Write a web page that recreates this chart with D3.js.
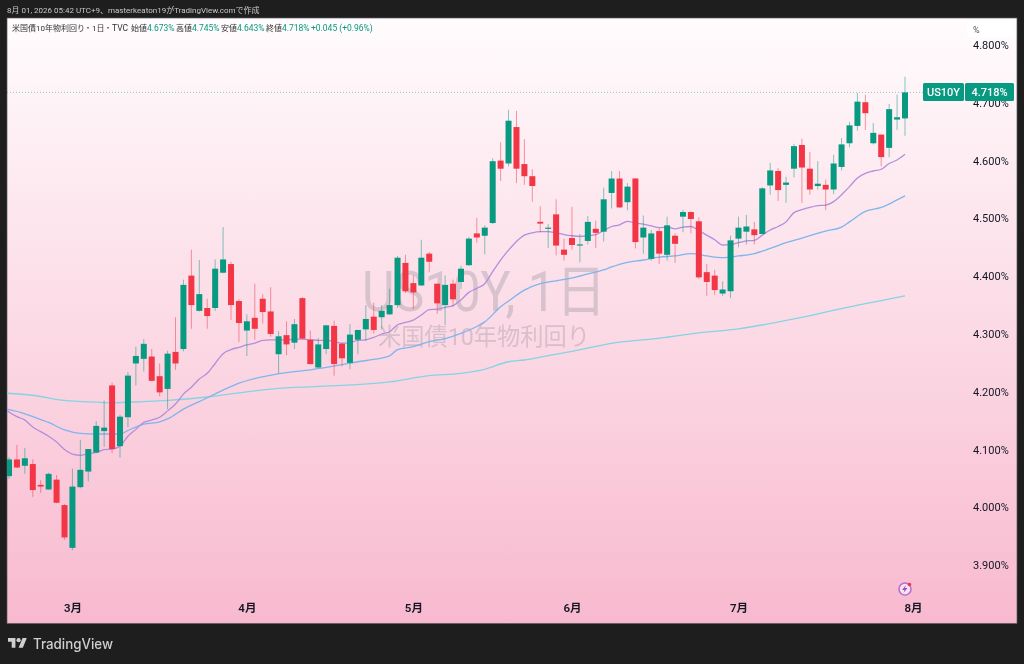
<!DOCTYPE html>
<html>
<head>
<meta charset="utf-8">
<title>US10Y</title>
<script src="https://cdn.jsdelivr.net/npm/d3@7"></script>
<style>
    html, body { margin: 0; padding: 0; background: #1e1e1e; }
    svg { display: block; filter: blur(0.3px); }
    text { font-family: Roboto, "Noto Sans CJK JP", sans-serif; }
</style>
</head>
<body>
<svg id="chart" width="1024" height="664"></svg>
<script>
    // daily candles, oldest first
    const opens = [4.054,4.083,4.072,4.075,4.039,4.031,4.048,4.004,3.930,4.035,4.062,4.095,4.132,4.211,4.106,4.156,4.249,4.257,4.261,4.227,
        4.205,4.269,4.274,4.401,4.340,4.345,4.345,4.406,4.421,4.357,4.306,4.328,4.361,4.339,4.265,4.298,4.285,4.362,4.290,4.242,
        4.274,4.314,4.283,4.250,4.290,4.308,4.330,4.329,4.334,4.350,4.423,4.388,4.384,4.439,4.387,4.350,4.387,4.390,4.419,4.474,
        4.470,4.492,4.600,4.595,4.658,4.594,4.573,4.494,4.482,4.507,4.446,4.466,4.453,4.461,4.482,4.477,4.544,4.569,4.528,4.569,
        4.467,4.430,4.478,4.437,4.470,4.503,4.511,4.495,4.407,4.401,4.370,4.374,4.465,4.477,4.481,4.473,4.557,4.582,4.558,4.586,
        4.627,4.586,4.556,4.558,4.550,4.589,4.630,4.660,4.701,4.630,4.645,4.622,4.671,4.673];
    const highs = [4.087,4.108,4.103,4.083,4.047,4.060,4.056,4.006,4.067,4.117,4.101,4.149,4.185,4.216,4.160,4.234,4.278,4.291,4.274,4.249,
        4.271,4.329,4.394,4.446,4.428,4.361,4.429,4.485,4.425,4.360,4.334,4.387,4.369,4.381,4.305,4.322,4.326,4.364,4.306,4.293,
        4.316,4.323,4.285,4.317,4.307,4.350,4.354,4.350,4.378,4.435,4.437,4.402,4.463,4.442,4.387,4.401,4.394,4.418,4.468,4.501,
        4.488,4.604,4.632,4.688,4.686,4.637,4.585,4.521,4.490,4.533,4.465,4.520,4.473,4.504,4.496,4.553,4.582,4.582,4.561,4.570,
        4.505,4.480,4.483,4.503,4.474,4.515,4.512,4.502,4.421,4.411,4.391,4.470,4.503,4.506,4.494,4.554,4.596,4.587,4.572,4.629,
        4.638,4.615,4.599,4.567,4.610,4.639,4.667,4.717,4.714,4.665,4.645,4.698,4.714,4.745];
    const lows = [4.049,4.068,4.058,4.018,4.025,4.030,4.007,3.944,3.926,4.033,4.045,4.094,4.105,4.094,4.086,4.139,4.211,4.235,4.218,4.192,
        4.170,4.238,4.270,4.309,4.339,4.309,4.340,4.405,4.324,4.286,4.262,4.290,4.318,4.295,4.232,4.263,4.274,4.291,4.247,4.241,
        4.265,4.228,4.244,4.239,4.265,4.288,4.301,4.308,4.333,4.345,4.371,4.343,4.383,4.407,4.335,4.316,4.347,4.378,4.418,4.458,
        4.438,4.490,4.565,4.590,4.561,4.558,4.529,4.476,4.449,4.436,4.427,4.446,4.424,4.455,4.449,4.460,4.517,4.518,4.514,4.448,
        4.439,4.427,4.421,4.427,4.423,4.476,4.474,4.395,4.366,4.368,4.366,4.362,4.450,4.455,4.455,4.473,4.541,4.530,4.527,4.571,
        4.527,4.541,4.550,4.514,4.542,4.583,4.623,4.652,4.653,4.628,4.590,4.606,4.653,4.643];
    const closes = [4.083,4.069,4.085,4.030,4.036,4.058,4.008,3.948,4.036,4.065,4.101,4.141,4.138,4.101,4.157,4.228,4.262,4.283,4.219,4.199,
        4.266,4.249,4.385,4.350,4.369,4.331,4.413,4.429,4.350,4.319,4.322,4.309,4.338,4.300,4.296,4.282,4.317,4.292,4.248,4.282,
        4.315,4.248,4.258,4.299,4.307,4.326,4.307,4.340,4.350,4.432,4.374,4.372,4.432,4.425,4.353,4.385,4.360,4.413,4.465,4.467,
        4.484,4.599,4.586,4.669,4.586,4.573,4.556,4.491,4.484,4.453,4.437,4.454,4.455,4.494,4.475,4.533,4.569,4.519,4.555,4.459,
        4.484,4.474,4.439,4.488,4.456,4.511,4.499,4.398,4.390,4.376,4.377,4.462,4.484,4.486,4.471,4.552,4.583,4.549,4.562,4.625,
        4.588,4.550,4.560,4.550,4.595,4.628,4.661,4.702,4.682,4.648,4.606,4.689,4.675,4.718];

    // moving averages: purple read at every candle from one bar before the first
    const maFastValues = [4.177,4.165,4.157,4.151,4.139,4.131,4.123,4.113,4.100,4.092,4.090,4.093,4.095,4.100,4.101,4.106,4.123,4.135,4.147,4.151,
        4.156,4.167,4.179,4.196,4.208,4.222,4.232,4.249,4.266,4.273,4.277,4.281,4.284,4.289,4.290,4.290,4.290,4.291,4.291,4.290,
        4.289,4.289,4.287,4.284,4.285,4.289,4.290,4.294,4.300,4.304,4.316,4.320,4.324,4.333,4.342,4.343,4.346,4.349,4.359,4.372,
        4.379,4.387,4.408,4.428,4.445,4.460,4.471,4.475,4.477,4.477,4.475,4.472,4.470,4.469,4.470,4.472,4.479,4.486,4.489,4.495,
        4.492,4.490,4.487,4.484,4.485,4.482,4.485,4.486,4.479,4.471,4.463,4.454,4.455,4.458,4.461,4.462,4.471,4.480,4.486,4.494,
        4.510,4.515,4.519,4.522,4.523,4.529,4.541,4.555,4.570,4.578,4.582,4.585,4.595,4.601,4.611];
    const maFastIndex = d3.range(-1, 114);
    // blue and cyan only read where the curve bends
    const maMidIndex = [-1,2,3,5,7,9,11,14,15,17,19,20,22,24,27,29,32,35,38,42,44,46,48,49,51,53,55,57,59,60,62,63,65,67,69,71,73,75,76,78,80,82,84,86,88,90,92,94,96,98,100,103,105,106,108,110,112,113];
    const maMidValues = [4.172,4.162,4.157,4.147,4.134,4.128,4.127,4.127,4.133,4.144,4.148,4.153,4.170,4.183,4.203,4.215,4.226,4.233,4.238,4.247,4.252,4.256,4.262,4.273,4.278,4.287,4.292,4.301,4.313,4.321,4.347,4.357,4.376,4.387,4.392,4.397,4.404,4.411,4.416,4.424,4.428,4.433,4.435,4.439,4.435,4.432,4.435,4.439,4.448,4.458,4.466,4.478,4.485,4.494,4.512,4.519,4.532,4.539];
    const maSlowIndex = [-1,3,7,11,13,17,20,25,30,34,42,48,53,57,60,63,65,67,71,77,81,87,92,99,105,113];
    const maSlowValues = [4.198,4.194,4.185,4.182,4.181,4.183,4.185,4.191,4.200,4.206,4.211,4.217,4.228,4.232,4.239,4.252,4.255,4.260,4.270,4.286,4.291,4.302,4.309,4.326,4.344,4.366];

    const priceTicks = [3.9,4.0,4.1,4.2,4.3,4.4,4.5,4.6,4.7,4.8];
    const monthIndex = [8,30,51,71,92,114];
    const monthLabels = ["3月","4月","5月","6月","7月","8月"];
    const lastPrice = 4.718;

    const up = "#089981", down = "#f23645";
    const plot = {left: 7, top: 18, right: 1017, bottom: 623.5};

    const svg = d3.select("#chart");
    const defs = svg.append("defs");
    const grad = defs.append("linearGradient").attr("id", "bg")
        .attr("x1", 0).attr("y1", 0).attr("x2", 0).attr("y2", 1);
    grad.append("stop").attr("offset", "0%").attr("stop-color", "#fffcfd");
    grad.append("stop").attr("offset", "100%").attr("stop-color", "#f8b9cf");
    defs.append("clipPath").attr("id", "plotClip").append("rect")
        .attr("x", plot.left).attr("y", plot.top)
        .attr("width", plot.right - plot.left).attr("height", plot.bottom - plot.top);

    // credit line above the pane
    svg.append("text").attr("x", 7).attr("y", 13)
        .attr("font-size", 8).attr("fill", "#c8c8c8")
        .text("8月 01, 2026 05:42 UTC+9、masterkeaton19がTradingView.comで作成");

    svg.append("rect")
        .attr("x", plot.left).attr("y", plot.top)
        .attr("width", plot.right - plot.left).attr("height", plot.bottom - plot.top)
        .attr("fill", "url(#bg)").attr("stroke", "#5a5a5e").attr("stroke-width", 0.7);

    const x = d3.scaleLinear().domain([0, 113]).range([9, 905]);
    const y = d3.scaleLinear().domain([3.9, 4.8]).range([565.2, 45]);

    // watermark
    svg.append("text").attr("x", 362).attr("y", 311)
        .attr("font-size", 56).attr("fill", "#787b86").attr("fill-opacity", 0.27)
        .attr("textLength", 244).attr("lengthAdjust", "spacingAndGlyphs")
        .text("US10Y, 1日");
    svg.append("text").attr("x", 378).attr("y", 345)
        .attr("font-size", 23.5).attr("fill", "#787b86").attr("fill-opacity", 0.27)
        .attr("textLength", 212).attr("lengthAdjust", "spacingAndGlyphs")
        .text("米国債10年物利回り");

    const pane = svg.append("g").attr("clip-path", "url(#plotClip)");

    // last price line
    pane.append("line")
        .attr("x1", plot.left).attr("x2", 923)
        .attr("y1", y(lastPrice)).attr("y2", y(lastPrice))
        .attr("stroke", up).attr("stroke-opacity", 0.45)
        .attr("stroke-width", 1).attr("stroke-dasharray", "1 2");

    // moving averages
    const maLine = d3.line().x(d => x(d[0])).y(d => y(d[1])).curve(d3.curveMonotoneX);
    [
        {idx: maSlowIndex, vals: maSlowValues, color: "#86d3e3"},
        {idx: maMidIndex, vals: maMidValues, color: "#7fb5ec"},
        {idx: maFastIndex, vals: maFastValues, color: "#b28fdc"}
    ].forEach(s => {
        pane.append("path")
            .datum(s.idx.map((d, i) => [d, s.vals[i]]))
            .attr("fill", "none").attr("stroke", s.color).attr("stroke-width", 1.3)
            .attr("d", maLine);
    });

    // candles
    const candles = opens.map((o, i) => ({i: i, o: o, h: highs[i], l: lows[i], c: closes[i]}));
    const candle = pane.selectAll("g.candle").data(candles).enter().append("g").attr("class", "candle");
    candle.append("line")
        .attr("x1", d => x(d.i)).attr("x2", d => x(d.i))
        .attr("y1", d => y(d.h)).attr("y2", d => y(d.l))
        .attr("stroke", d => d.c >= d.o ? up : down)
        .attr("stroke-opacity", 0.5).attr("stroke-width", 1);
    candle.append("rect")
        .attr("x", d => x(d.i) - 3).attr("width", 6)
        .attr("y", d => y(Math.max(d.o, d.c)))
        .attr("height", d => Math.max(1.2, Math.abs(y(d.o) - y(d.c))))
        .attr("fill", d => d.c >= d.o ? up : down);

    // price axis
    const yAxis = svg.append("g").attr("transform", "translate(973,0)")
        .call(d3.axisRight(y).tickValues(priceTicks).tickSize(0).tickPadding(0)
            .tickFormat(d => d3.format(".3f")(d) + "%"));
    yAxis.select(".domain").remove();
    yAxis.selectAll("text").attr("font-size", 11).attr("fill", "#131722")
        .style("font-family", "Roboto, sans-serif");

    // time axis
    const xAxis = svg.append("g").attr("transform", "translate(0,604)")
        .call(d3.axisBottom(x).tickValues(monthIndex).tickSize(0).tickPadding(0)
            .tickFormat((d, i) => monthLabels[i]));
    xAxis.select(".domain").remove();
    xAxis.selectAll("text").attr("font-size", 11.5).attr("font-weight", 600).attr("fill", "#131722")
        .style("font-family", 'Roboto, "Noto Sans CJK JP", sans-serif');

    // unit box
    svg.append("rect").attr("x", 967).attr("y", 21).attr("width", 47).attr("height", 16)
        .attr("rx", 2).attr("fill", "#ffffff").attr("fill-opacity", 0.85);
    svg.append("text").attr("x", 973).attr("y", 33).attr("font-size", 9).attr("fill", "#555").text("%");

    // symbol + last price tags
    svg.append("rect").attr("x", 923).attr("y", 83).attr("width", 41).attr("height", 18).attr("rx", 1.5).attr("fill", up);
    svg.append("rect").attr("x", 965).attr("y", 83).attr("width", 49).attr("height", 18).attr("rx", 1.5).attr("fill", up);
    svg.append("text").attr("x", 943.5).attr("y", 96).attr("text-anchor", "middle")
        .attr("font-size", 11).attr("font-weight", 500).attr("fill", "#fff").text("US10Y");
    svg.append("text").attr("x", 989.5).attr("y", 96).attr("text-anchor", "middle")
        .attr("font-size", 11).attr("font-weight", 500).attr("fill", "#fff").text(lastPrice.toFixed(3) + "%");

    // legend row
    const legendParts = [
        [12, "米国債10年物利回り", "#333", 8],
        [84, "・", "#333", 8], [92, "1日", "#333", 8],
        [104, "・", "#333", 8], [112, "TVC", "#333", 8.5],
        [131, "始値", "#333", 8], [147, "4.673%", up, 8.5],
        [176, "高値", "#333", 8], [192, "4.745%", up, 8.5],
        [221, "安値", "#333", 8], [237, "4.643%", up, 8.5],
        [266, "終値", "#333", 8], [282, "4.718%", up, 8.5],
        [311, "+0.045 (+0.96%)", up, 8.5]
    ];
    svg.selectAll("text.legend").data(legendParts).enter().append("text").attr("class", "legend")
        .attr("x", d => d[0]).attr("y", 31).attr("font-size", d => d[3])
        .attr("fill", d => d[2]).text(d => d[1]);

    // lightning badge
    const badge = svg.append("g").attr("transform", "translate(905,589)");
    badge.append("circle").attr("r", 6).attr("fill", "#fbe6f0").attr("stroke", "#b46fd6").attr("stroke-width", 1.6);
    badge.append("path").attr("d", "M1-4L-3 1H-.5L-1.5 4L2.5-1H0Z").attr("fill", "#9c4fc4");
    badge.append("circle").attr("cx", 4.5).attr("cy", -4.5).attr("r", 1.8).attr("fill", "#f23645");

    // footer logo
    const logo = svg.append("g").attr("transform", "translate(8,636) scale(0.53)").attr("fill", "#cfcfcf");
    logo.append("path").attr("d", "M14 22H7V11H0V4h14v18zM28 22h-8l7.5-18h8L28 22z");
    logo.append("circle").attr("cx", 20).attr("cy", 8).attr("r", 4);
    svg.append("text").attr("x", 33).attr("y", 649).attr("font-size", 14).attr("font-weight", 500)
        .attr("textLength", 80).attr("lengthAdjust", "spacingAndGlyphs")
        .attr("fill", "#cfcfcf").style("font-family", "Inter, sans-serif").text("TradingView");
</script>
</body>
</html>
